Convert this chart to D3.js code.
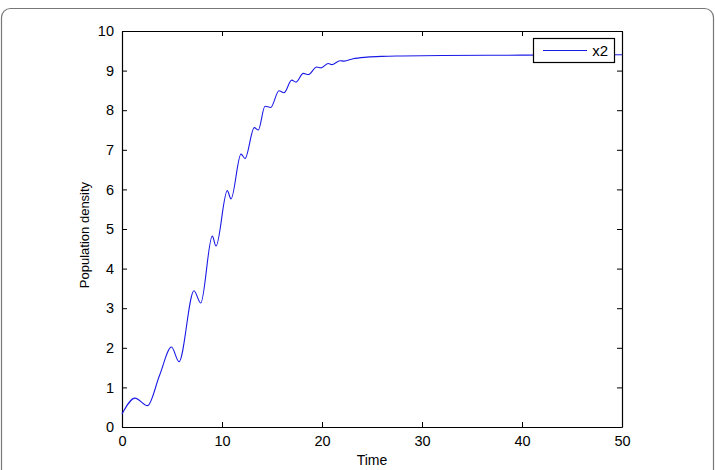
<!DOCTYPE html>
<html>
<head>
<meta charset="utf-8">
<script src="https://cdn.jsdelivr.net/npm/d3@7"></script>
<style>
  body { margin: 0; background: #fff; }
  text { font-family: "Liberation Sans", Arial, Helvetica, sans-serif; }
</style>
</head>
<body>
<div id="chart"></div>
<script>
// values (time vs population density)
const time = [0, 1.3, 2.55, 3.75, 4.95, 5.7, 7.2, 7.87, 9.03, 9.4, 10.53, 10.9, 11.9, 12.3,
    13.23, 13.63, 14.3, 14.87, 15.7, 16.2, 16.97, 17.4, 18.13, 18.63, 19.47, 19.9,
    20.63, 20.97, 21.8, 22.2, 23.1, 24.5, 26, 28, 32, 40, 50];
const x2 = [0.33, 0.73, 0.54, 1.3, 2.02, 1.65, 3.44, 3.13, 4.82, 4.57, 5.97, 5.76, 6.89, 6.78,
    7.56, 7.5, 8.1, 8.07, 8.49, 8.44, 8.76, 8.71, 8.93, 8.9, 9.09, 9.07,
    9.18, 9.15, 9.25, 9.24, 9.3, 9.34, 9.36, 9.37, 9.38, 9.39, 9.4];
const x_ticks = [0, 10, 20, 30, 40, 50];
const y_ticks = [0, 1, 2, 3, 4, 5, 6, 7, 8, 9, 10];
const series_name = 'x2';

const chart_width = 715;
const chart_height = 470;
const margin = { left: 122, right: 93, top: 31, bottom: 43 };

const svg = d3.select('#chart')
    .append('svg')
    .attr('width', chart_width)
    .attr('height', chart_height);

// figure frame
svg.append('rect')
    .attr('x', 1.5)
    .attr('y', 8.5)
    .attr('width', chart_width - 3)
    .attr('height', chart_height + 20)
    .attr('rx', 9)
    .attr('fill', 'none')
    .attr('stroke', '#777')
    .attr('stroke-width', 1.2);

const x_scale = d3.scaleLinear()
    .domain([0, 50])
    .range([margin.left, chart_width - margin.right]);

const y_scale = d3.scaleLinear()
    .domain([0, 10])
    .range([chart_height - margin.bottom, margin.top]);

const plot_bottom = y_scale(0);
const plot_top = y_scale(10);
const plot_left = x_scale(0);
const plot_right = x_scale(50);

// axes, ticks pointing inward
const bottom_axis = svg.append('g')
    .attr('transform', `translate(0,${plot_bottom})`)
    .call(d3.axisBottom(x_scale).tickValues(x_ticks).tickSizeInner(-5).tickSizeOuter(0).tickPadding(9));

const top_axis = svg.append('g')
    .attr('transform', `translate(0,${plot_top})`)
    .call(d3.axisTop(x_scale).tickValues(x_ticks).tickSizeInner(-5).tickSizeOuter(0).tickFormat(''));

const left_axis = svg.append('g')
    .attr('transform', `translate(${plot_left},0)`)
    .call(d3.axisLeft(y_scale).tickValues(y_ticks).tickSizeInner(-5).tickSizeOuter(0).tickPadding(8));

const right_axis = svg.append('g')
    .attr('transform', `translate(${plot_right},0)`)
    .call(d3.axisRight(y_scale).tickValues(y_ticks).tickSizeInner(-5).tickSizeOuter(0).tickFormat(''));

[bottom_axis, top_axis, left_axis, right_axis].forEach(g => {
    g.select('.domain').attr('stroke', '#000').attr('stroke-width', 1.2);
    g.selectAll('.tick line').attr('stroke', '#000');
    g.selectAll('.tick text')
        .attr('font-size', 14.5)
        .attr('font-family', '"Liberation Sans", Arial, sans-serif')
        .attr('fill', '#000');
});

// the curve
const line = d3.line()
    .x((d, i) => x_scale(time[i]))
    .y(d => y_scale(d))
    .curve(d3.curveMonotoneX);

svg.append('path')
    .datum(x2)
    .attr('d', line)
    .attr('fill', 'none')
    .attr('stroke', '#1a1ae6')
    .attr('stroke-width', 1.1);

// axis titles
svg.append('text')
    .text('Time')
    .attr('x', (plot_left + plot_right) / 2)
    .attr('y', 465)
    .attr('text-anchor', 'middle')
    .attr('font-size', 14);

svg.append('text')
    .text('Population density')
    .attr('transform', `translate(89,${(plot_top + plot_bottom) / 2 + 6}) rotate(-90)`)
    .attr('text-anchor', 'middle')
    .attr('font-size', 13);

// legend
const legend = svg.append('g');
legend.append('rect')
    .attr('x', 533.5)
    .attr('y', 38.5)
    .attr('width', 81)
    .attr('height', 24)
    .attr('fill', '#fff')
    .attr('stroke', '#000')
    .attr('stroke-width', 1.2);
legend.append('line')
    .attr('x1', 543)
    .attr('x2', 587)
    .attr('y1', 50.5)
    .attr('y2', 50.5)
    .attr('stroke', '#1a1ae6')
    .attr('stroke-width', 1.1);
legend.append('text')
    .text(series_name)
    .attr('x', 608)
    .attr('y', 56)
    .attr('text-anchor', 'end')
    .attr('font-size', 15);
</script>
</body>
</html>
